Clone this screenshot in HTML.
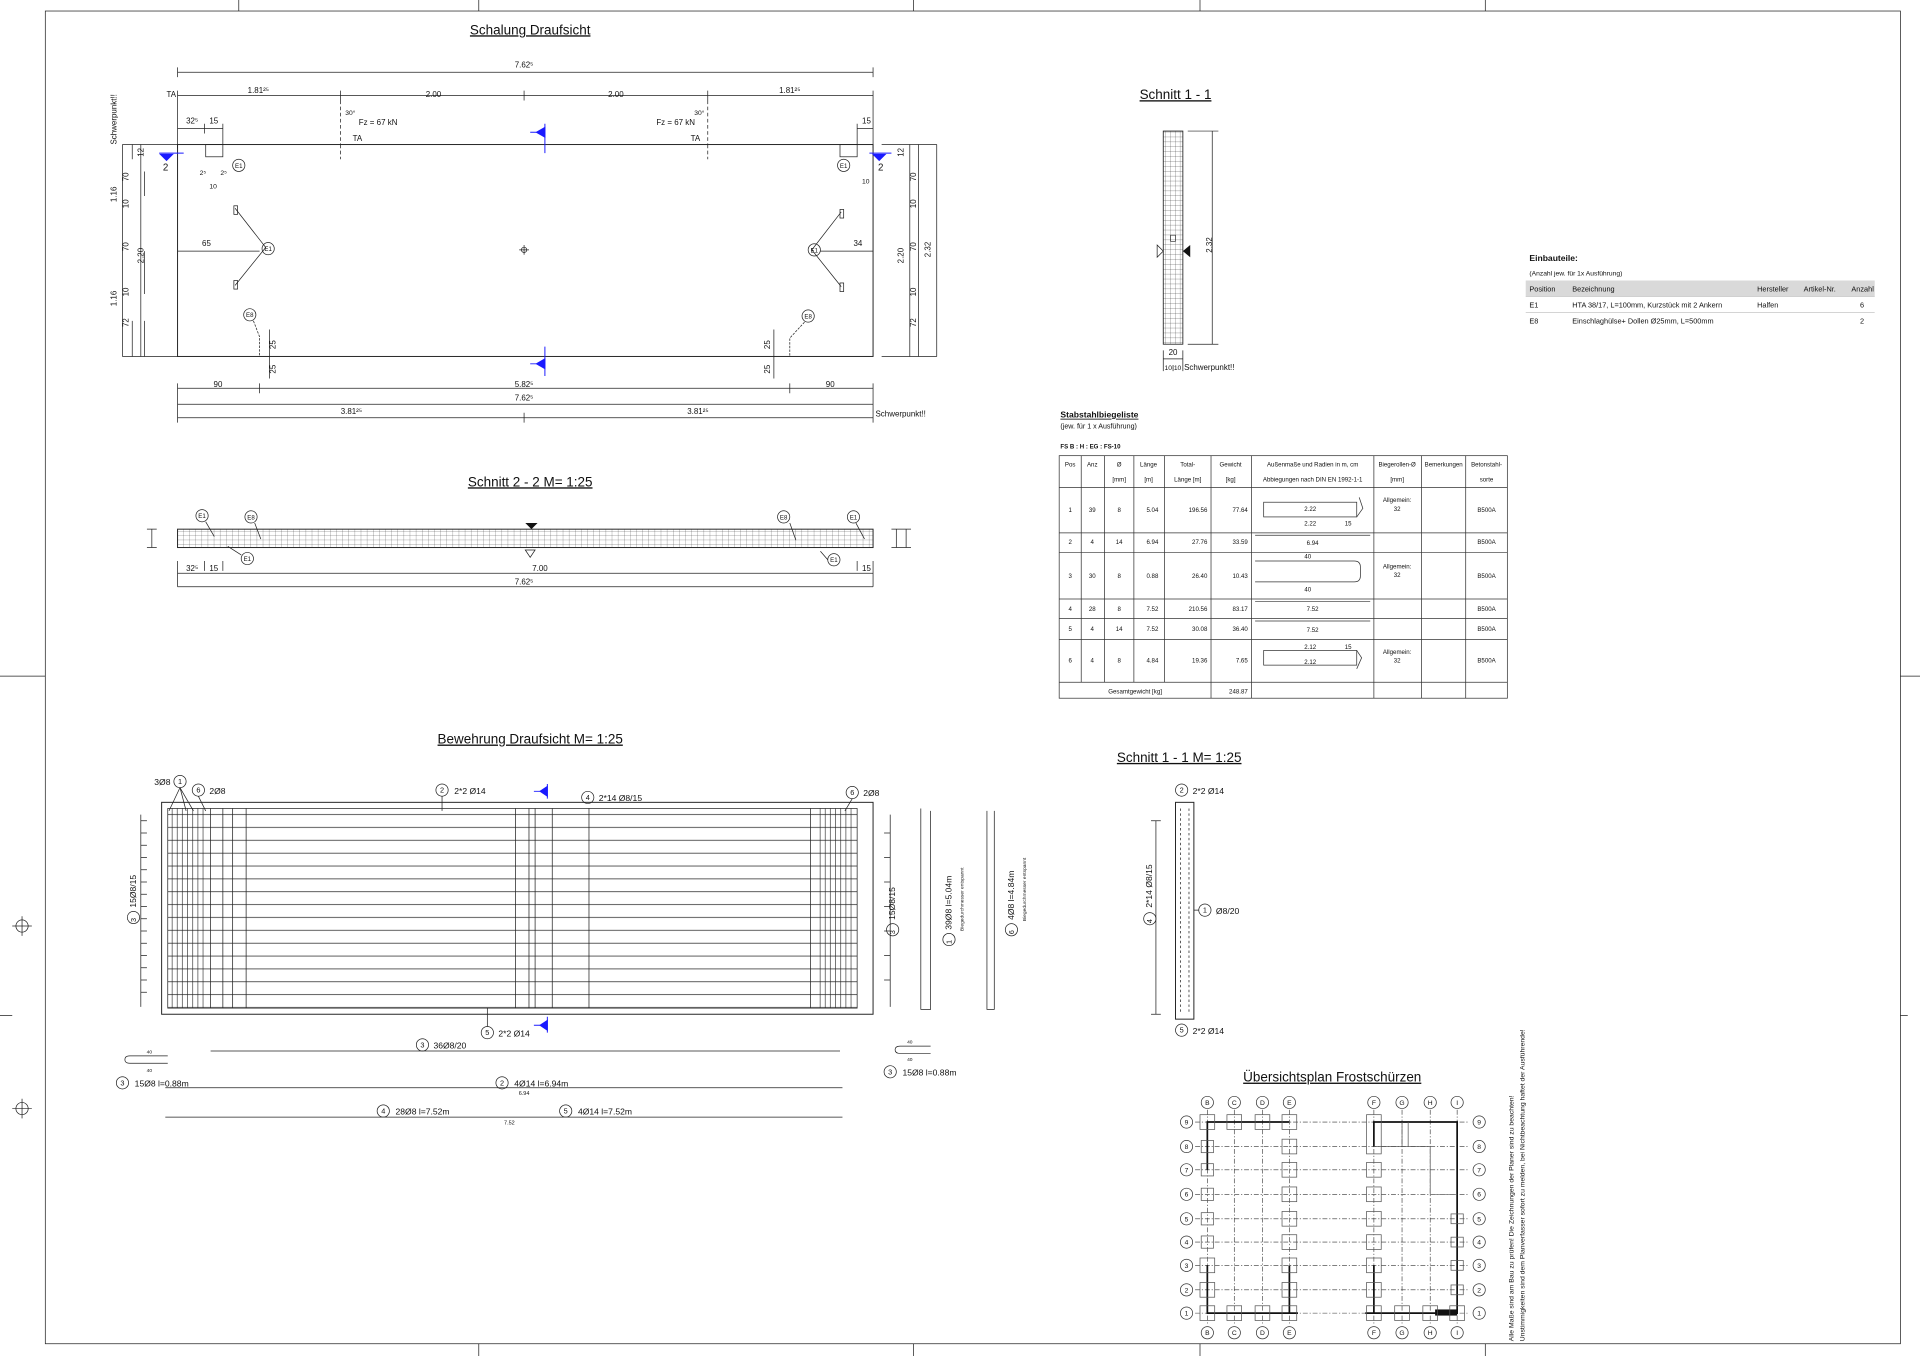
<!DOCTYPE html>
<html><head><meta charset="utf-8"><style>
html,body{margin:0;padding:0;background:#fff}
svg{display:block}
text{font-family:"Liberation Sans",sans-serif;fill:#111}
</style></head><body>
<svg width="1920" height="1356" viewBox="0 0 1568 1107" preserveAspectRatio="none" xmlns="http://www.w3.org/2000/svg">
<defs>
<pattern id="g1" width="4" height="4" patternUnits="userSpaceOnUse"><path d="M4 0V4M0 4H4" stroke="#333" stroke-width="0.4" fill="none"/></pattern>
<pattern id="g2" width="5" height="3.5" patternUnits="userSpaceOnUse"><path d="M5 0V3.5M0 3.5H5" stroke="#333" stroke-width="0.35" fill="none"/></pattern>
<pattern id="hl" width="10" height="10.5" patternUnits="userSpaceOnUse" y="660"><path d="M0 5H10" stroke="#222" stroke-width="0.6"/></pattern>
<pattern id="vl" width="4.2" height="10" patternUnits="userSpaceOnUse"><path d="M2 0V10" stroke="#222" stroke-width="0.5"/></pattern>
</defs>
<g fill="none" stroke="#222" stroke-width="0.6">
<rect x="37" y="9" width="1515" height="1088"/>
<path d="M195 0V9M391 0V9M746 0V9M980 0V9M1213 0V9M391 1097V1107M746 1097V1107M980 1097V1107M1213 1097V1107M0 552H37M0 829H10M1552 552H1568M1552 829H1558"/>
<circle cx="18" cy="756" r="5"/><path d="M10 756H26M18 748V764"/>
<circle cx="18" cy="905" r="5"/><path d="M10 905H26M18 897V913"/>

<rect x="145" y="118" width="568" height="173" stroke-width="0.8"/>
<path d="M145 59H713M145 55V63M713 55V63M145 78H713M145 74V121M278 74V82M428 74V82M578 74V82M713 74V121M145 105H182M167 101V109M182 101V118M700 105H713M700 101V118"/>
<path d="M278 82V118M278 118V130M578 82V118M578 118V130" stroke-dasharray="3 2"/>
<rect x="168" y="118" width="14" height="10"/><rect x="686" y="118" width="14" height="10"/>
<path d="M100 118H145M100 291H145M100 118V291M108 118V130M108 291V262M115 118V291M118 140V160M118 205V240M118 262V291"/>
<path d="M720 118H765M720 291H765M765 118V291M743 118V291M750 118V291"/>
<path d="M145 317H713M145 313V345M212 313V321M645 313V321M713 313V345M145 330H713M145 341H713M428 337V345"/>
<path d="M145 205H212"/><path d="M192 170L217 202L192 233M687 173L663 204L687 234"/>
<rect x="191" y="168" width="3" height="7"/><rect x="191" y="229" width="3" height="7"/>
<rect x="686" y="171" width="3" height="7"/><rect x="686" y="231" width="3" height="7"/>
<circle cx="219" cy="203" r="5"/><circle cx="665" cy="204" r="5"/>
<circle cx="195" cy="135" r="5"/><circle cx="689" cy="135" r="5"/>
<circle cx="204" cy="257" r="5"/><circle cx="660" cy="258" r="5"/>
<path d="M207 262L212 275V291M657 263L645 276V291" stroke-dasharray="2 1"/>
<path d="M220 269V309M632 269V309"/>
<circle cx="428" cy="204" r="2.2"/><path d="M424 204H432M428 200V208"/>
<path d="M670 205H713"/>
</g>
<g fill="#1a1aff" stroke="#1a1aff" stroke-width="0.8">
<path d="M445 101V125M445 283V307M433 108H438M433 297H438" fill="none"/>
<path d="M438 108L445 104V112Z M438 297L445 293V301Z"/>
<path d="M130 125H150M710 125H728" fill="none"/><path d="M131 126L141 126L136 131Z M713 126L723 126L718 131Z"/>
<path d="M447 640V652M447 830V843M436 646H441M436 837H441" fill="none"/>
<path d="M441 646L447 642V650Z M441 837L447 833V841Z"/>
</g>
<g font-size="6.5">
<text x="433" y="28" font-size="11" text-anchor="middle" text-decoration="underline">Schalung Draufsicht</text>
<text x="428" y="55" text-anchor="middle">7.62⁵</text>
<text x="136" y="79">TA</text>
<text x="211" y="76" text-anchor="middle">1.81²⁵</text><text x="354" y="79" text-anchor="middle">2.00</text><text x="503" y="79" text-anchor="middle">2.00</text><text x="645" y="76" text-anchor="middle">1.81²⁵</text>
<text x="152" y="101">32⁵</text><text x="171" y="101">15</text><text x="704" y="101">15</text>
<text x="282" y="94" font-size="5.5">30°</text><text x="293" y="102">Fz = 67 kN</text><text x="288" y="115">TA</text>
<text x="567" y="94" font-size="5.5">30°</text><text x="536" y="102">Fz = 67 kN</text><text x="564" y="115">TA</text>
<text x="163" y="143" font-size="5.5">2⁵</text><text x="180" y="143" font-size="5.5">2⁵</text><text x="171" y="154" font-size="5.5">10</text>
<text x="704" y="150" font-size="5.5">10</text>
<text x="133" y="139" fill="#1a1aff" font-size="8">2</text><text x="717" y="139" fill="#1a1aff" font-size="8">2</text>
<text x="165" y="201">65</text><text x="697" y="201">34</text>
<text x="195" y="137" font-size="5" text-anchor="middle">E1</text><text x="689" y="137" font-size="5" text-anchor="middle">E1</text>
<text x="219" y="205" font-size="5" text-anchor="middle">E1</text><text x="665" y="206" font-size="5" text-anchor="middle">E1</text>
<text x="204" y="259" font-size="5" text-anchor="middle">E8</text><text x="660" y="260" font-size="5" text-anchor="middle">E8</text>
<text x="178" y="316" text-anchor="middle">90</text><text x="428" y="316" text-anchor="middle">5.82⁵</text><text x="678" y="316" text-anchor="middle">90</text>
<text x="428" y="327" text-anchor="middle">7.62⁵</text>
<text x="287" y="338" text-anchor="middle">3.81²⁵</text><text x="570" y="338" text-anchor="middle">3.81²⁵</text><text x="715" y="340">Schwerpunkt!!</text>
<g transform="rotate(-90)">
<text x="-118" y="95">Schwerpunkt!!</text>
<text x="-165" y="95">1.16</text><text x="-250" y="95">1.16</text><text x="-215" y="117">2.20</text>
<text x="-128" y="117">12</text><text x="-148" y="105">70</text><text x="-170" y="105">10</text><text x="-205" y="105">70</text><text x="-242" y="105">10</text><text x="-267" y="105">72</text>
<text x="-128" y="738">12</text><text x="-148" y="748">70</text><text x="-170" y="748">10</text><text x="-205" y="748">70</text><text x="-242" y="748">10</text><text x="-267" y="748">72</text>
<text x="-215" y="738">2.20</text><text x="-210" y="760">2.32</text>
<text x="-285" y="225">25</text><text x="-305" y="225">25</text><text x="-285" y="629">25</text><text x="-305" y="629">25</text>
</g>
</g>

<rect x="950" y="107" width="16" height="174" fill="url(#g1)" stroke="#222" stroke-width="0.7"/>
<g fill="none" stroke="#222" stroke-width="0.6">
<path d="M970 107H995M970 281H995M990 107V281M950 286V298M966 286V298M950 293H966M950 298V303M958 298V303M966 298V303"/>
<path d="M945 200L950 205L945 210Z"/>
</g>
<path d="M966 205L972 200V210Z" fill="#111"/>
<rect x="956" y="192" width="4" height="5" fill="none" stroke="#222" stroke-width="0.5"/>
<g font-size="6.5">
<text x="960" y="81" font-size="11" text-anchor="middle" text-decoration="underline">Schnitt 1 - 1</text>
<text x="958" y="290" text-anchor="middle">20</text><text x="951" y="302" font-size="5.5">10 10</text><text x="967" y="302">Schwerpunkt!!</text>
<text transform="translate(990 200) rotate(-90)" text-anchor="middle">2.32</text>
</g>

<rect x="1246" y="229" width="285" height="13" fill="#d9d9d9"/>
<path d="M1246 242H1531M1246 255H1531" stroke="#bbb" stroke-width="0.5"/>
<g font-size="6">
<text x="1249" y="213" font-weight="bold" font-size="7">Einbauteile:</text>
<text x="1249" y="225" font-size="5.5">(Anzahl jew. für 1x Ausführung)</text>
<text x="1249" y="238">Position</text><text x="1284" y="238">Bezeichnung</text><text x="1435" y="238">Hersteller</text><text x="1473" y="238">Artikel-Nr.</text><text x="1512" y="238">Anzahl</text>
<text x="1249" y="251">E1</text><text x="1284" y="251">HTA 38/17, L=100mm, Kurzstück mit 2 Ankern</text><text x="1435" y="251">Halfen</text><text x="1519" y="251">6</text>
<text x="1249" y="264">E8</text><text x="1284" y="264">Einschlaghülse+ Dollen Ø25mm, L=500mm</text><text x="1519" y="264">2</text>
</g>

<g font-size="5.2">
<text x="866" y="341" font-size="7" font-weight="bold" text-decoration="underline">Stabstahlbiegeliste</text>
<text x="866" y="350" font-size="5.8">(jew. für 1 x Ausführung)</text>
<text x="866" y="366" font-weight="bold" font-size="5">FS B : H : EG : FS-10</text>
</g>
<g fill="none" stroke="#333" stroke-width="0.6">
<rect x="865" y="372" width="366" height="198"/>
<path d="M865 398H1231M865 435H1231M865 451H1231M865 489H1231M865 505H1231M865 522H1231M865 557H1231"/>
<path d="M883 372V557M902 372V557M926 372V557M951 372V557M989 372V570M1022 372V570M1122 372V570M1161 372V570M1197 372V570"/>
<rect x="1032" y="410" width="76" height="12"/><path d="M1108 422L1113 415L1110 406"/>
<path d="M1025 437H1119M1025 491H1119M1025 507H1119"/>
<path d="M1025 458H1106Q1111 458 1111 463V470Q1111 475 1106 475H1025"/>
<rect x="1032" y="531" width="76" height="12"/><path d="M1108 531L1112 537L1108 546"/>
</g>
<g font-size="5" text-anchor="middle">
<text x="874" y="381">Pos</text><text x="892" y="381">Anz</text><text x="914" y="381">Ø</text><text x="914" y="393">[mm]</text>
<text x="938" y="381">Länge</text><text x="938" y="393">[m]</text><text x="970" y="381">Total-</text><text x="970" y="393">Länge [m]</text>
<text x="1005" y="381">Gewicht</text><text x="1005" y="393">[kg]</text>
<text x="1072" y="381">Außenmaße und Radien in m, cm</text><text x="1072" y="393">Abbiegungen nach DIN EN 1992-1-1</text>
<text x="1141" y="381">Biegerollen-Ø</text><text x="1141" y="393">[mm]</text><text x="1179" y="381">Bemerkungen</text>
<text x="1214" y="381">Betonstahl-</text><text x="1214" y="393">sorte</text>
<text x="874" y="418">1</text><text x="892" y="418">39</text><text x="914" y="418">8</text><text x="946" y="418" text-anchor="end">5.04</text><text x="986" y="418" text-anchor="end">196.56</text><text x="1019" y="418" text-anchor="end">77.64</text>
<text x="874" y="444">2</text><text x="892" y="444">4</text><text x="914" y="444">14</text><text x="946" y="444" text-anchor="end">6.94</text><text x="986" y="444" text-anchor="end">27.76</text><text x="1019" y="444" text-anchor="end">33.59</text>
<text x="874" y="472">3</text><text x="892" y="472">30</text><text x="914" y="472">8</text><text x="946" y="472" text-anchor="end">0.88</text><text x="986" y="472" text-anchor="end">26.40</text><text x="1019" y="472" text-anchor="end">10.43</text>
<text x="874" y="499">4</text><text x="892" y="499">28</text><text x="914" y="499">8</text><text x="946" y="499" text-anchor="end">7.52</text><text x="986" y="499" text-anchor="end">210.56</text><text x="1019" y="499" text-anchor="end">83.17</text>
<text x="874" y="515">5</text><text x="892" y="515">4</text><text x="914" y="515">14</text><text x="946" y="515" text-anchor="end">7.52</text><text x="986" y="515" text-anchor="end">30.08</text><text x="1019" y="515" text-anchor="end">36.40</text>
<text x="874" y="541">6</text><text x="892" y="541">4</text><text x="914" y="541">8</text><text x="946" y="541" text-anchor="end">4.84</text><text x="986" y="541" text-anchor="end">19.36</text><text x="1019" y="541" text-anchor="end">7.65</text>
<text x="927" y="566">Gesamtgewicht [kg]</text><text x="1019" y="566" text-anchor="end">248.87</text>
<text x="1070" y="417">2.22</text><text x="1070" y="429">2.22</text><text x="1101" y="429">15</text>
<text x="1072" y="445">6.94</text><text x="1068" y="456">40</text><text x="1068" y="483">40</text>
<text x="1072" y="499">7.52</text><text x="1072" y="516">7.52</text>
<text x="1070" y="530">2.12</text><text x="1070" y="542">2.12</text><text x="1101" y="530">15</text>
<text x="1141" y="410">Allgemein:</text><text x="1141" y="417">32</text>
<text x="1141" y="464">Allgemein:</text><text x="1141" y="471">32</text>
<text x="1141" y="534">Allgemein:</text><text x="1141" y="541">32</text>
<text x="1214" y="418">B500A</text><text x="1214" y="444">B500A</text><text x="1214" y="472">B500A</text><text x="1214" y="499">B500A</text><text x="1214" y="515">B500A</text><text x="1214" y="541">B500A</text>
</g>

<rect x="145" y="432" width="568" height="15" fill="url(#g2)" stroke="#222" stroke-width="0.8"/>
<g fill="none" stroke="#222" stroke-width="0.6">
<path d="M145 458V479M167 458V466M182 458V466M700 458V466M713 458V479M145 468H713M145 479H713"/>
<path d="M124 432V447M120 432H128M120 447H128M732 432V447M740 432V447M728 432H744M728 447H744"/>
<circle cx="165" cy="421" r="5"/><circle cx="205" cy="422" r="5"/><circle cx="202" cy="456" r="5"/>
<circle cx="640" cy="422" r="5"/><circle cx="697" cy="422" r="5"/><circle cx="681" cy="457" r="5"/>
<path d="M168 426L175 438M208 427L213 440M197 453L186 446M645 427L650 441M699 427L706 440M676 457L670 450"/>
<path d="M429 449L433 455L437 449Z"/>
</g>
<path d="M429 427H439L434 432Z" fill="#111"/>
<g font-size="6.5">
<text x="433" y="397" font-size="11" text-anchor="middle" text-decoration="underline">Schnitt 2 - 2   M= 1:25</text>
<text x="165" y="423" font-size="5" text-anchor="middle">E1</text><text x="205" y="424" font-size="5" text-anchor="middle">E8</text><text x="202" y="458" font-size="5" text-anchor="middle">E1</text>
<text x="640" y="424" font-size="5" text-anchor="middle">E8</text><text x="697" y="424" font-size="5" text-anchor="middle">E1</text><text x="681" y="459" font-size="5" text-anchor="middle">E1</text>
<text x="152" y="466">32⁵</text><text x="171" y="466">15</text><text x="704" y="466">15</text>
<text x="441" y="466" text-anchor="middle">7.00</text><text x="428" y="477" text-anchor="middle">7.62⁵</text>
</g>

<rect x="132" y="655" width="581" height="173" fill="none" stroke="#222" stroke-width="0.8"/>
<rect x="137" y="660" width="563" height="163" fill="url(#hl)" stroke="#222" stroke-width="0.6"/>
<rect x="137" y="660" width="30" height="163" fill="url(#vl)"/>
<rect x="669" y="660" width="28" height="163" fill="url(#vl)"/>
<g fill="none" stroke="#222" stroke-width="0.6">
<path d="M172 660V823M182 660V823M190 660V823M201 660V823M421 660V823M432 660V823M437 660V823M451 660V823M481 660V823M662 660V823"/>
<path d="M115 665V822M115 670H120M115 680H120M115 690H120M115 700H120M115 710H120M115 720H120M115 730H120M115 740H120M115 750H120M115 760H120M115 770H120M115 780H120M115 790H120M115 800H120M115 810H120"/>
<path d="M727 665V822M722 680H727M722 700H727M722 720H727M722 740H727M722 760H727M722 780H727M722 800H727"/>
<path d="M172 858H686M135 888H688M135 912H688"/>
<path d="M137 862H106Q102 862 102 865Q102 868 106 868H137"/>
<path d="M760 854H735Q731 854 731 857Q731 860 735 860H760"/>
<path d="M752 660V824H760V662M806 662V824H812V662"/>
<circle cx="147" cy="638" r="5"/><circle cx="162" cy="645" r="5"/><circle cx="361" cy="645" r="5"/><circle cx="480" cy="651" r="5"/><circle cx="696" cy="647" r="5"/>
<circle cx="109" cy="749" r="5"/><circle cx="398" cy="843" r="5"/><circle cx="345" cy="853" r="5"/>
<circle cx="100" cy="884" r="5"/><circle cx="410" cy="884" r="5"/><circle cx="313" cy="907" r="5"/><circle cx="462" cy="907" r="5"/>
<circle cx="729" cy="759" r="5"/><circle cx="775" cy="767" r="5"/><circle cx="826" cy="759" r="5"/><circle cx="727" cy="875" r="5"/>
<path d="M147 643L138 662M147 643L152 662M147 643L158 662M162 650L168 662M696 652L690 662M361 650V662M398 838V823"/>
</g>
<g font-size="7">
<text x="433" y="607" font-size="11" text-anchor="middle" text-decoration="underline">Bewehrung Draufsicht   M= 1:25</text>
<text x="126" y="641">3Ø8</text><text x="171" y="648">2Ø8</text><text x="371" y="648">2*2 Ø14</text><text x="489" y="654">2*14 Ø8/15</text><text x="705" y="650">2Ø8</text>
<text x="407" y="846">2*2 Ø14</text><text x="354" y="856">36Ø8/20</text><text x="110" y="887">15Ø8 l=0.88m</text><text x="420" y="887">4Ø14 l=6.94m</text>
<text x="323" y="910">28Ø8 l=7.52m</text><text x="472" y="910">4Ø14 l=7.52m</text><text x="737" y="878">15Ø8 l=0.88m</text>
<text x="147" y="640" font-size="6" text-anchor="middle">1</text><text x="162" y="647" font-size="6" text-anchor="middle">6</text><text x="361" y="647" font-size="6" text-anchor="middle">2</text><text x="480" y="653" font-size="6" text-anchor="middle">4</text><text x="696" y="649" font-size="6" text-anchor="middle">6</text>
<text x="398" y="845" font-size="6" text-anchor="middle">5</text><text x="345" y="855" font-size="6" text-anchor="middle">3</text><text x="100" y="886" font-size="6" text-anchor="middle">3</text><text x="410" y="886" font-size="6" text-anchor="middle">2</text><text x="313" y="909" font-size="6" text-anchor="middle">4</text><text x="462" y="909" font-size="6" text-anchor="middle">5</text><text x="727" y="877" font-size="6" text-anchor="middle">3</text>
<text transform="translate(111 751) rotate(-90)" font-size="6" text-anchor="middle">3</text>
<text transform="translate(731 761) rotate(-90)" font-size="6" text-anchor="middle">3</text>
<text transform="translate(777 769) rotate(-90)" font-size="6" text-anchor="middle">1</text>
<text transform="translate(828 761) rotate(-90)" font-size="6" text-anchor="middle">6</text>
<text x="416" y="918" font-size="4.5" text-anchor="middle">7.52</text><text x="428" y="894" font-size="4.5" text-anchor="middle">6.94</text>
<text x="122" y="860" font-size="4" text-anchor="middle">40</text><text x="122" y="875" font-size="4" text-anchor="middle">40</text>
<text x="743" y="852" font-size="4" text-anchor="middle">40</text><text x="743" y="866" font-size="4" text-anchor="middle">40</text>
<text transform="translate(111 741) rotate(-90)">15Ø8/15</text>
<text transform="translate(731 751) rotate(-90)">15Ø8/15</text>
<text transform="translate(777 759) rotate(-90)">39Ø8 l=5.04m</text>
<text transform="translate(828 751) rotate(-90)">4Ø8 l=4.84m</text>
<text transform="translate(787 760) rotate(-90)" font-size="4">Biegedurchmesser entspannt</text>
<text transform="translate(838 752) rotate(-90)" font-size="4">Biegedurchmesser entspannt</text>
</g>

<rect x="960" y="655" width="15" height="177" fill="none" stroke="#222" stroke-width="0.8"/>
<path d="M964 660V828M971 660V828" stroke="#222" stroke-width="0.6" stroke-dasharray="2 2" fill="none"/>
<g fill="none" stroke="#222" stroke-width="0.6">
<path d="M944 670V828M940 670H948M940 828H948M975 743H979"/>
<circle cx="965" cy="645" r="5"/><circle cx="965" cy="841" r="5"/><circle cx="984" cy="743" r="5"/><circle cx="939" cy="750" r="5"/>
</g>
<g font-size="7">
<text x="963" y="622" font-size="11" text-anchor="middle" text-decoration="underline">Schnitt 1 - 1   M= 1:25</text>
<text x="974" y="648">2*2 Ø14</text><text x="974" y="844">2*2 Ø14</text><text x="993" y="746">Ø8/20</text>
<text x="965" y="647" font-size="6" text-anchor="middle">2</text><text x="965" y="843" font-size="6" text-anchor="middle">5</text><text x="984" y="745" font-size="6" text-anchor="middle">1</text>
<text transform="translate(941 752) rotate(-90)" font-size="6" text-anchor="middle">4</text>
<text transform="translate(941 741) rotate(-90)">2*14 Ø8/15</text>
</g>

<text x="1088" y="883" font-size="11" text-anchor="middle" text-decoration="underline">Übersichtsplan Frostschürzen</text>
<g fill="none" stroke="#333" stroke-width="0.5" stroke-dasharray="4 1.5 1 1.5">
<path d="M976 916H1200M976 936H1200M976 955H1200M976 975H1200M976 995H1200M976 1014H1200M976 1033H1200M976 1053H1200M976 1072H1200"/>
<path d="M986 906V1082M1008 906V1082M1031 906V1082M1053 906V1082M1122 906V1082M1145 906V1082M1168 906V1082M1190 906V1082"/>
</g>
<g fill="none" stroke="#111" stroke-width="1.4">
<path d="M1053 916H986V955M986 1033V1072H1060M1053 1033V1072"/>
<path d="M1122 936V916H1190V1072H1115M1122 1033V1072"/>
</g>
<rect x="1172" y="1069" width="18" height="5" fill="#111"/>
<g fill="none" stroke="#555" stroke-width="0.6">
<path d="M1122 936H1168V975H1190M1168 936V975M1145 916V936M1150 916V936"/>
<rect x="980" y="910" width="12" height="12"/><rect x="1002" y="910" width="12" height="12"/><rect x="1025" y="910" width="12" height="12"/><rect x="1047" y="910" width="12" height="12"/>
<rect x="1047" y="930" width="12" height="12"/><rect x="1047" y="949" width="12" height="12"/><rect x="1047" y="969" width="12" height="12"/><rect x="1047" y="989" width="12" height="12"/><rect x="1047" y="1008" width="12" height="12"/><rect x="1047" y="1027" width="12" height="12"/><rect x="1047" y="1047" width="12" height="12"/><rect x="1047" y="1066" width="12" height="12"/>
<rect x="981" y="931" width="10" height="10"/><rect x="981" y="950" width="10" height="10"/><rect x="981" y="970" width="10" height="10"/><rect x="981" y="990" width="10" height="10"/><rect x="981" y="1009" width="10" height="10"/><rect x="980" y="1027" width="12" height="12"/><rect x="980" y="1047" width="12" height="12"/><rect x="980" y="1066" width="12" height="12"/>
<rect x="1002" y="1066" width="12" height="12"/><rect x="1025" y="1066" width="12" height="12"/>
<rect x="1116" y="910" width="12" height="32"/><rect x="1116" y="949" width="12" height="12"/><rect x="1116" y="969" width="12" height="12"/><rect x="1116" y="989" width="12" height="12"/><rect x="1116" y="1008" width="12" height="12"/><rect x="1116" y="1027" width="12" height="12"/><rect x="1116" y="1047" width="12" height="12"/><rect x="1116" y="1066" width="12" height="12"/>
<rect x="1139" y="1066" width="12" height="12"/><rect x="1162" y="1066" width="12" height="12"/><rect x="1184" y="1066" width="12" height="12"/>
<rect x="1185" y="991" width="10" height="8"/><rect x="1185" y="1010" width="10" height="8"/><rect x="1185" y="1029" width="10" height="8"/><rect x="1185" y="1049" width="10" height="8"/>
</g>
<g fill="#fff" stroke="#333" stroke-width="0.6">
<circle cx="986" cy="900" r="5"/><circle cx="1008" cy="900" r="5"/><circle cx="1031" cy="900" r="5"/><circle cx="1053" cy="900" r="5"/><circle cx="1122" cy="900" r="5"/><circle cx="1145" cy="900" r="5"/><circle cx="1168" cy="900" r="5"/><circle cx="1190" cy="900" r="5"/>
<circle cx="986" cy="1088" r="5"/><circle cx="1008" cy="1088" r="5"/><circle cx="1031" cy="1088" r="5"/><circle cx="1053" cy="1088" r="5"/><circle cx="1122" cy="1088" r="5"/><circle cx="1145" cy="1088" r="5"/><circle cx="1168" cy="1088" r="5"/><circle cx="1190" cy="1088" r="5"/>
<circle cx="969" cy="916" r="5"/><circle cx="969" cy="936" r="5"/><circle cx="969" cy="955" r="5"/><circle cx="969" cy="975" r="5"/><circle cx="969" cy="995" r="5"/><circle cx="969" cy="1014" r="5"/><circle cx="969" cy="1033" r="5"/><circle cx="969" cy="1053" r="5"/><circle cx="969" cy="1072" r="5"/>
<circle cx="1208" cy="916" r="5"/><circle cx="1208" cy="936" r="5"/><circle cx="1208" cy="955" r="5"/><circle cx="1208" cy="975" r="5"/><circle cx="1208" cy="995" r="5"/><circle cx="1208" cy="1014" r="5"/><circle cx="1208" cy="1033" r="5"/><circle cx="1208" cy="1053" r="5"/><circle cx="1208" cy="1072" r="5"/>
</g>
<g font-size="5.5" text-anchor="middle">
<text x="986" y="902">B</text><text x="1008" y="902">C</text><text x="1031" y="902">D</text><text x="1053" y="902">E</text><text x="1122" y="902">F</text><text x="1145" y="902">G</text><text x="1168" y="902">H</text><text x="1190" y="902">I</text>
<text x="986" y="1090">B</text><text x="1008" y="1090">C</text><text x="1031" y="1090">D</text><text x="1053" y="1090">E</text><text x="1122" y="1090">F</text><text x="1145" y="1090">G</text><text x="1168" y="1090">H</text><text x="1190" y="1090">I</text>
<text x="969" y="918">9</text><text x="969" y="938">8</text><text x="969" y="957">7</text><text x="969" y="977">6</text><text x="969" y="997">5</text><text x="969" y="1016">4</text><text x="969" y="1035">3</text><text x="969" y="1055">2</text><text x="969" y="1074">1</text>
<text x="1208" y="918">9</text><text x="1208" y="938">8</text><text x="1208" y="957">7</text><text x="1208" y="977">6</text><text x="1208" y="997">5</text><text x="1208" y="1016">4</text><text x="1208" y="1035">3</text><text x="1208" y="1055">2</text><text x="1208" y="1074">1</text>
</g>
<g font-size="5.6">
<text transform="translate(1236 1095) rotate(-90)">Alle Maße sind am Bau zu prüfen! Die Zeichnungen der Planer sind zu beachten!</text>
<text transform="translate(1245 1095) rotate(-90)">Unstimmigkeiten sind dem Planverfasser sofort zu melden, bei Nichtbeachtung haftet der Ausführende!</text>
</g>
</svg>
</body></html>
